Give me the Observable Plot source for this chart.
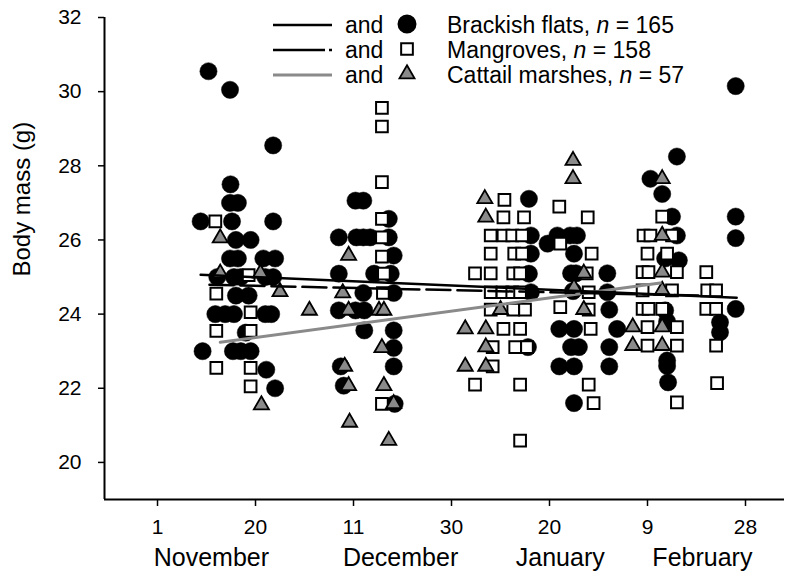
<!DOCTYPE html>
<html>
<head>
<meta charset="utf-8">
<script src="https://cdn.jsdelivr.net/npm/d3@7"></script>
<script src="https://cdn.jsdelivr.net/npm/@observablehq/plot@0.6"></script>
<style>
  html, body { margin: 0; padding: 0; background: white; }
  #wrap { position: relative; width: 785px; height: 579px; }
  #legend { position: absolute; left: 0; top: 0; pointer-events: none; }
</style>
</head>
<body>
<div id="wrap"></div>
<script>
// ---------- Axis labels ----------
const xTickPos = [0, 1, 2, 3, 4, 5, 6];
const xTickLabels = ["1", "20", "11", "30", "20", "9", "28"];
const monthNames = ["November", "December", "January", "February"];
const monthPos = [0.55, 2.48, 4.11, 5.56];
const yTicks = [20, 22, 24, 26, 28, 30, 32];
const xDomain = [-0.541, 6.398];
const yDomain = [19, 32];

// ---------- Series: [x (date, in tick units), body mass g] ----------
const brackish = [
  [0.44,26.5],[0.52,30.55],[0.74,30.05],[0.745,27.5],[0.74,27.0],[0.82,27.0],[0.76,26.5],[1.18,26.5],
  [0.80,26.0],[0.95,26.0],[0.74,25.5],[0.82,25.5],[1.08,25.5],[1.20,25.5],[0.61,25.0],[0.78,25.0],
  [0.85,25.0],[1.18,25.0],[1.10,25.0],[0.80,24.5],[0.93,24.5],[0.59,24.0],[0.69,24.0],[0.78,24.0],
  [1.10,24.0],[1.16,24.0],[0.90,23.5],[0.46,23.0],[0.77,23.0],[0.85,23.0],[0.95,23.0],[1.11,22.5],
  [1.20,22.0],[1.18,28.55],
  [1.85,26.07],[2.02,27.06],[2.10,27.06],[2.03,26.07],[2.10,26.07],[2.17,26.07],[2.36,26.57],[2.36,26.07],
  [2.41,25.58],[1.85,25.09],[2.21,25.09],[2.38,25.09],[2.10,24.57],[2.41,24.57],[1.85,24.1],[2.11,24.1],
  [2.02,24.1],[2.11,23.56],[2.41,23.56],[2.41,23.09],[1.87,22.59],[2.41,22.59],[1.90,22.07],[2.42,21.58],
  [3.79,27.11],[3.81,26.12],[3.81,25.63],[3.79,25.09],[3.81,24.59],[3.78,23.11],
  [3.98,25.9],[4.08,26.12],[4.21,26.12],[4.28,26.12],[4.25,25.63],[4.22,25.1],[4.27,25.1],[4.59,25.1],
  [4.59,24.59],[4.61,24.12],[4.10,23.6],[4.25,23.6],[4.69,23.6],[4.22,23.11],[4.30,23.11],[4.61,23.11],
  [4.10,22.59],[4.25,22.59],[4.61,22.59],[4.25,21.6],[4.24,24.62],
  [5.30,28.25],[5.03,27.65],[5.15,27.24],[5.25,26.63],[5.30,26.12],[5.32,25.45],[5.18,25.5],[5.18,24.1],
  [5.20,23.8],[5.20,22.75],[5.20,22.6],[5.21,22.16],
  [5.90,30.15],[5.90,26.63],[5.90,26.05],[5.90,24.14],[5.74,23.78],[5.74,23.51]
];
const mangroves = [
  [0.59,26.5],[0.60,24.55],[0.60,23.55],[0.60,22.55],[0.93,25.05],[0.95,24.05],[0.95,23.55],[0.95,22.55],[0.95,22.05],
  [2.29,29.56],[2.29,29.06],[2.29,27.56],[2.29,26.57],[2.29,26.07],[2.29,25.55],[2.31,25.09],[2.30,24.57],[2.29,21.58],
  [3.54,27.08],[3.53,26.61],[3.74,26.61],[3.40,26.12],[3.53,26.12],[3.62,26.12],[3.72,26.12],[3.40,25.63],
  [3.64,25.63],[3.72,25.63],[3.24,25.1],[3.40,25.1],[3.63,25.1],[3.70,25.1],[3.40,24.59],[3.52,24.59],
  [3.62,24.59],[3.70,24.59],[3.40,24.12],[3.63,24.12],[3.75,24.12],[3.53,23.6],[3.70,23.6],[3.42,23.11],
  [3.65,23.11],[3.77,23.11],[3.42,22.59],[3.24,22.1],[3.70,22.1],[3.70,20.59],
  [4.10,26.9],[4.11,25.9],[4.39,26.61],[4.43,25.63],[4.38,25.1],[4.40,24.59],[4.11,24.19],[4.40,24.12],
  [4.42,23.6],[4.40,22.1],[4.45,21.6],
  [4.96,26.12],[5.03,26.12],[5.15,26.63],[5.25,26.12],[5.00,25.63],[5.20,25.63],[4.95,25.13],[5.01,25.13],
  [5.30,25.13],[4.95,24.64],[5.25,24.64],[4.95,24.14],[5.01,24.14],[5.15,24.14],[5.00,23.65],[5.30,23.65],
  [5.00,23.15],[5.30,23.15],[5.30,21.62],
  [5.60,25.13],[5.61,24.64],[5.70,24.64],[5.60,24.14],[5.70,24.14],[5.70,23.15],[5.71,22.14]
];
const cattail = [
  [0.64,26.05],[0.64,25.1],[1.05,25.1],[1.25,24.6],[1.06,21.55],[1.55,24.1],
  [1.95,25.58],[1.89,24.57],[1.95,24.1],[2.26,24.1],[2.31,24.1],[2.29,23.09],[1.91,22.59],[1.95,22.07],
  [2.31,22.07],[2.41,21.58],[1.96,21.08],[2.36,20.59],
  [3.34,27.11],[3.35,26.61],[3.50,24.12],[3.14,23.6],[3.35,23.6],[3.35,23.11],[3.14,22.59],[3.35,22.59],
  [4.24,28.14],[4.24,27.65],[4.35,25.1],[4.25,24.71],[4.35,24.12],
  [4.85,23.65],[4.85,23.15],[5.15,27.65],[5.15,26.12],[5.15,25.13],[5.15,24.64],[5.15,23.65],[5.15,23.15]
];

// ---------- Fitted regression lines (end points) ----------
const brackLineX = [0.44, 5.91], brackLineY = [25.06, 24.44];
const mangLineX = [0.53, 5.55], mangLineY = [24.79, 24.50];
const cattLineX = [0.64, 5.13], cattLineY = [23.24, 24.84];
const toPts = (xs, ys) => xs.map((x, i) => ({x, y: ys[i]}));

// ---------- Legend ----------
const legendSymbols = ["circle", "square", "triangle"];
const legendNames = ["Brackish flats, ", "Mangroves, ", "Cattail marshes, "];
const legendN = [165, 158, 57];

const XY = {x: d => d[0], y: d => d[1]};

const chart = Plot.plot({
  width: 785, height: 579,
  marginLeft: 104, marginRight: 1, marginTop: 17, marginBottom: 80,
  style: {fontFamily: "'Liberation Sans', Arial, sans-serif", background: "white", color: "black"},
  x: {domain: xDomain},
  y: {domain: yDomain},
  marks: [
    Plot.axisY(yTicks, {tickSize: 6, tickPadding: 17, fontSize: 21, label: null, strokeWidth: 1.5}),
    Plot.axisX(xTickPos, {tickSize: 7, tickPadding: 13, fontSize: 21, label: null, strokeWidth: 1.5,
      tickFormat: i => xTickLabels[i]}),
    Plot.ruleX([xDomain[0]], {strokeWidth: 2}),
    Plot.ruleY([yDomain[0]], {strokeWidth: 2}),
    Plot.text(monthNames, {x: (d, i) => monthPos[i], frameAnchor: "bottom", dy: 66, fontSize: 25}),
    Plot.text(["Body mass (g)"], {frameAnchor: "left", dx: -82, dy: 18, rotate: -90, fontSize: 24}),
    Plot.dot(brackish, {...XY, r: 8.6, fill: "black", stroke: "black", strokeWidth: 0.5}),
    Plot.dot(mangroves, {...XY, symbol: "square", r: 6.6, fill: "white", stroke: "black", strokeWidth: 2}),
    Plot.dot(cattail, {...XY, symbol: "triangle", r: 5.6, fill: "#8a8a8a", stroke: "black", strokeWidth: 1.8}),
    Plot.line(toPts(cattLineX, cattLineY), {x: "x", y: "y", stroke: "#8a8a8a", strokeWidth: 3}),
    Plot.line(toPts(brackLineX, brackLineY), {x: "x", y: "y", stroke: "black", strokeWidth: 2.5}),
    Plot.line(toPts(mangLineX, mangLineY), {x: "x", y: "y", stroke: "black", strokeWidth: 2.5, strokeDasharray: "24,7"})
  ]
});
const wrap = document.getElementById("wrap");
wrap.appendChild(chart);

// Legend overlay
const lg = d3.select(wrap).append("svg").attr("id", "legend").attr("width", 785).attr("height", 100)
  .style("font-family", "'Liberation Sans', Arial, sans-serif");
const rowBase = [33, 58, 83];
legendSymbols.forEach((s, i) => {
  const b = rowBase[i];
  const ly = b - 8;
  if (i === 0) lg.append("line").attr("x1", 273).attr("x2", 332).attr("y1", ly).attr("y2", ly).attr("stroke", "black").attr("stroke-width", 2.5);
  if (i === 1) {
    lg.append("line").attr("x1", 273).attr("x2", 325).attr("y1", ly).attr("y2", ly).attr("stroke", "black").attr("stroke-width", 2.5);
    lg.append("line").attr("x1", 329).attr("x2", 332).attr("y1", ly).attr("y2", ly).attr("stroke", "black").attr("stroke-width", 2.5);
  }
  if (i === 2) lg.append("line").attr("x1", 273).attr("x2", 332).attr("y1", ly).attr("y2", ly).attr("stroke", "#8a8a8a").attr("stroke-width", 3);
  lg.append("text").attr("x", 345).attr("y", b).attr("font-size", 23).text("and");
  const sym = s === "circle" ? d3.symbolCircle : s === "square" ? d3.symbolSquare : d3.symbolTriangle;
  const r = s === "circle" ? 8.6 : s === "square" ? 6.6 : 5.6;
  lg.append("path").attr("transform", `translate(407,${b - 9})`)
    .attr("d", d3.symbol(sym, r * r * Math.PI)())
    .attr("fill", s === "circle" ? "black" : s === "square" ? "white" : "#8a8a8a")
    .attr("stroke", "black").attr("stroke-width", s === "square" ? 2 : 1.8);
  const t = lg.append("text").attr("x", 447).attr("y", b).attr("font-size", 23);
  t.append("tspan").text(legendNames[i]);
  t.append("tspan").attr("font-style", "italic").text("n");
  t.append("tspan").text(" = " + legendN[i]);
});
</script>
</body>
</html>
